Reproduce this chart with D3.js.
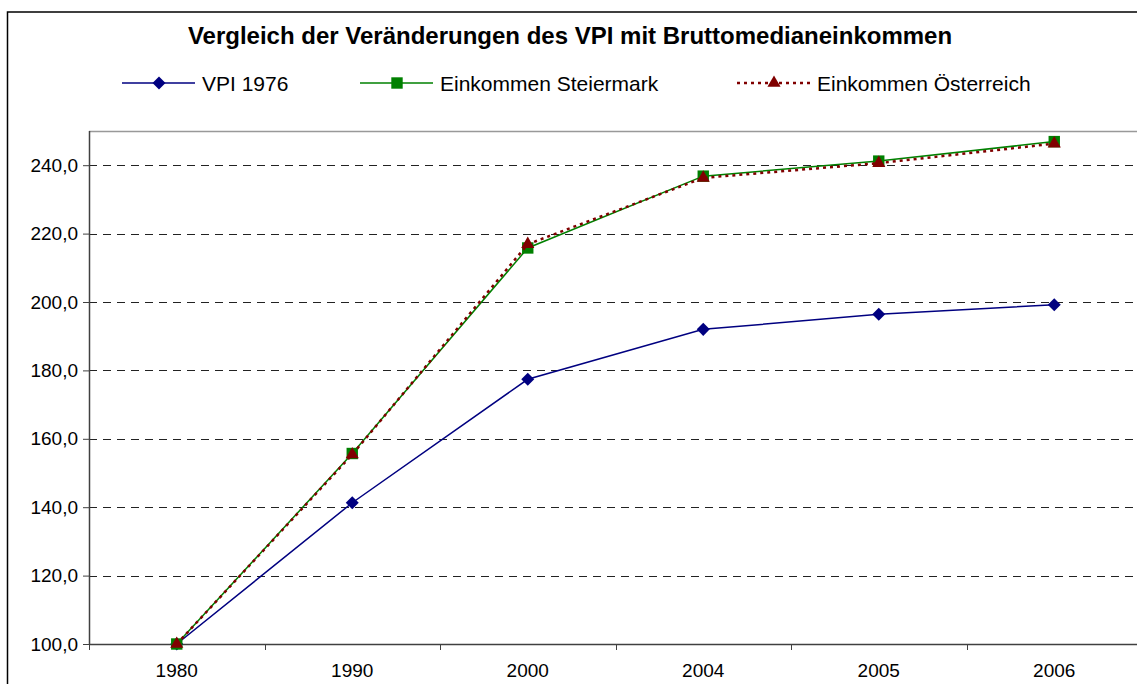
<!DOCTYPE html>
<html>
<head>
<meta charset="utf-8">
<script src="https://cdn.jsdelivr.net/npm/d3@7"></script>
<style>
    body { margin: 0; background: #fff; }
    svg { display: block; font-family: "Liberation Sans", Arial, sans-serif; }
    .axis path, .axis line { stroke: #404040; }
    .axis text { font-size: 19px; fill: #000; font-family: "Liberation Sans", Arial, sans-serif; }
    .grid line { stroke: #222; stroke-dasharray: 8,6; }
</style>
</head>
<body>
<div id="chart-area"></div>
<script>

// DATA
var years = ["1980", "1990", "2000", "2004", "2005", "2006"];
var vpi = [100, 141.3, 177.4, 192.0, 196.4, 199.2];
var steiermark = [100, 155.7, 215.8, 236.8, 241.2, 246.9];
var oesterreich = [100, 155.4, 216.9, 236.3, 240.6, 246.3];
var yTicks = [100, 120, 140, 160, 180, 200, 220, 240];

var seriesNames = ["VPI 1976", "Einkommen Steiermark", "Einkommen Österreich"];
var seriesColors = ["#000080", "#008000", "#800000"];

var series = [
    {name: seriesNames[0], values: vpi, color: seriesColors[0], marker: "diamond", dash: null},
    {name: seriesNames[1], values: steiermark, color: seriesColors[1], marker: "square", dash: null},
    {name: seriesNames[2], values: oesterreich, color: seriesColors[2], marker: "triangle", dash: "3,4"}
];

// SVG drawing area
var W = 1137, H = 684;
var margin = {top: 131, right: -5, bottom: 40, left: 89};
var width = W - margin.left - margin.right,
    height = H - margin.top - margin.bottom;

var root = d3.select("#chart-area").append("svg")
    .attr("width", W)
    .attr("height", H);

// outer chart border (continues past the window)
root.append("rect")
    .attr("x", 7.5)
    .attr("y", 12)
    .attr("width", W + 20)
    .attr("height", H + 20)
    .attr("fill", "none")
    .attr("stroke", "#000")
    .attr("stroke-width", 1.5);

root.append("text")
    .attr("x", 570)
    .attr("y", 44)
    .attr("text-anchor", "middle")
    .style("font-size", "24px")
    .style("font-weight", "bold")
    .text("Vergleich der Veränderungen des VPI mit Bruttomedianeinkommen");

var svg = root.append("g")
    .attr("transform", "translate(" + margin.left + "," + margin.top + ")");

//SCALES
var x = d3.scaleBand()
    .domain(years)
    .range([0, width]);

var y = d3.scaleLinear()
    .domain([100, 250])
    .range([height, 0]);

function markerPath(type) {
    if (type === "diamond") return d3.symbol().type(d3.symbolSquare).size(85)();
    if (type === "square") return d3.symbol().type(d3.symbolSquare).size(130)();
    return d3.symbol().type(d3.symbolTriangle).size(75)();
}

//GRID
svg.append("g")
    .attr("class", "grid")
    .selectAll("line")
    .data(yTicks.slice(1))
    .enter().append("line")
    .attr("x1", 0)
    .attr("x2", width)
    .attr("y1", function(d) { return Math.round(y(d)) + 0.5; })
    .attr("y2", function(d) { return Math.round(y(d)) + 0.5; });

// plot area top border
svg.append("line")
    .attr("x1", 0).attr("x2", width)
    .attr("y1", 0.5).attr("y2", 0.5)
    .attr("stroke", "#999")
    .attr("stroke-width", 1.5);

//AXES
var yAxis = d3.axisLeft(y)
    .tickValues(yTicks)
    .tickSize(6)
    .tickPadding(5)
    .tickFormat(function(d) { return d3.format(".1f")(d).replace(".", ","); });

svg.append("g")
    .attr("class", "axis y-axis")
    .call(yAxis)
    .call(function(g) { g.select(".domain").attr("d", "M0.5,0V" + height).attr("stroke-width", 1.5); });

var xAxis = d3.axisBottom(x)
    .tickSize(0)
    .tickPadding(20);

var xg = svg.append("g")
    .attr("class", "axis x-axis")
    .attr("transform", "translate(0," + height + ")")
    .call(xAxis);

xg.select(".domain").attr("d", "M0,0.5H" + width).attr("stroke-width", 1.5);

// tick marks between categories
xg.selectAll(".sep")
    .data(years)
    .enter().append("line")
    .attr("class", "sep")
    .attr("x1", function(d) { return Math.round(x(d)) + 0.5; })
    .attr("x2", function(d) { return Math.round(x(d)) + 0.5; })
    .attr("y1", 0)
    .attr("y2", 6);

//LINES
var drawLine = d3.line()
    .x(function(d, i) { return x(years[i]) + x.bandwidth() / 2; })
    .y(function(d) { return y(d); });

var groups = svg.selectAll(".series")
    .data(series)
    .enter().append("g")
    .attr("class", "series");

groups.append("path")
    .attr("d", function(d) { return drawLine(d.values); })
    .attr("fill", "none")
    .attr("stroke", function(d) { return d.color; })
    .attr("stroke-width", function(d) { return d.dash ? 2.5 : 1.5; })
    .attr("stroke-dasharray", function(d) { return d.dash; });

groups.selectAll(".dot")
    .data(function(d) { return d.values.map(function(v, i) { return {v: v, i: i, s: d}; }); })
    .enter().append("path")
    .attr("class", "dot")
    .attr("d", function(d) { return markerPath(d.s.marker); })
    .attr("fill", function(d) { return d.s.color; })
    .attr("transform", function(d) {
        var cx = x(years[d.i]) + x.bandwidth() / 2, cy = y(d.v);
        return "translate(" + cx + "," + cy + ")" + (d.s.marker === "diamond" ? " rotate(45)" : "");
    });

//LEGEND
var legendX = [122, 360, 737];
var legend = root.selectAll(".legend")
    .data(series)
    .enter().append("g")
    .attr("class", "legend")
    .attr("transform", function(d, i) { return "translate(" + legendX[i] + ",83)"; });

legend.append("line")
    .attr("x1", 0).attr("x2", 73)
    .attr("y1", 0).attr("y2", 0)
    .attr("stroke", function(d) { return d.color; })
    .attr("stroke-width", function(d) { return d.dash ? 2.5 : 1.5; })
    .attr("stroke-dasharray", function(d) { return d.dash; });

legend.append("path")
    .attr("d", function(d) { return markerPath(d.marker); })
    .attr("fill", function(d) { return d.color; })
    .attr("transform", function(d) { return "translate(37,0)" + (d.marker === "diamond" ? " rotate(45)" : ""); });

legend.append("text")
    .attr("x", 80)
    .attr("y", 8)
    .style("font-size", "21px")
    .text(function(d) { return d.name; });

</script>
</body>
</html>
